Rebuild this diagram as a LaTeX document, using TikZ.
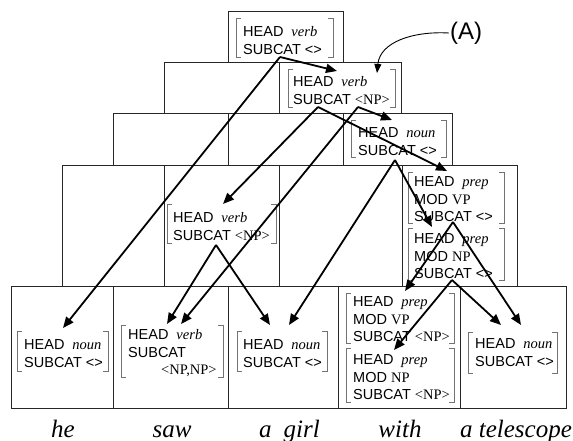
\documentclass[tikz,border=0pt]{standalone}
\usepackage{fontspec}
\setmainfont{Liberation Sans}
\newfontfamily\tms{Liberation Serif}
\usetikzlibrary{arrows.meta}
\newcommand\fsbrack[4]{%
  \draw[br] (#1+5,#2) -- (#1,#2) -- (#1,#4) -- (#1+5,#4);
  \draw[br] (#3-5,#2) -- (#3,#2) -- (#3,#4) -- (#3-5,#4);}
\newcommand\hd[1]{HEAD\hspace{8pt}{\tms\itshape #1}}
\begin{document}
\begin{tikzpicture}[x=1pt,y=-1pt,
  cell/.style={draw=black!85,line width=0.8pt},
  fs/.style={anchor=north west,inner sep=0pt,align=left,font=\fontsize{14.5}{17.5}\selectfont},
  br/.style={draw=black!55,line width=0.8pt},
  arr/.style={line width=1.8pt,-{Triangle[length=11pt,width=9pt]}},
  word/.style={anchor=base,inner sep=0pt,font=\tms\itshape\fontsize{25}{30}\selectfont}]
\useasboundingbox[fill=white] (0,0) rectangle (573,441);
% grid
\draw[cell] (228,11) rectangle (343,62);
\draw[cell] (164,62) rectangle (401,113) (279,62) -- (279,113);
\draw[cell] (113,113) rectangle (452,165) (228,113) -- (228,165) (343,113) -- (343,165);
\draw[cell] (62,165) rectangle (517,286) (164,165) -- (164,286) (279,165) -- (279,286) (402,165) -- (402,286);
\draw[cell] (11,286) rectangle (566,408) (113,286) -- (113,408) (228,286) -- (228,408) (338,286) -- (338,408) (460,286) -- (460,408);
% brackets
\fsbrack{236}{18}{333}{57}
\fsbrack{288}{69}{395}{107}
\fsbrack{351}{120}{446}{157}
\fsbrack{167}{204}{276}{243}
\fsbrack{408}{172}{504}{223}
\fsbrack{408}{228}{504}{280}
\fsbrack{17}{331}{108}{371}
\fsbrack{121}{325}{223}{377}
\fsbrack{237}{331}{327}{371}
\fsbrack{346}{293}{454}{343}
\fsbrack{346}{348}{454}{402}
\fsbrack{468}{332}{557}{373}
% feature structures
\node[fs] (fs1) at (243,26.5) {\hd{verb}\\SUBCAT <>};
\node[fs] (fs2) at (293,76.5) {\hd{verb}\\SUBCAT {\tms<NP>}};
\node[fs] (fs3) at (358,127.5) {\hd{noun}\\SUBCAT <>};
\node[fs] (fs4) at (173,212.5) {\hd{verb}\\SUBCAT {\tms<NP>}};
\node[fs] (fs5) at (414,176.5) {\hd{prep}\\MOD {\tms VP}\\SUBCAT <>};
\node[fs] (fs6) at (414,233.5) {\hd{prep}\\MOD {\tms NP}\\SUBCAT <>};
\node[fs] (fs7) at (24,339.5) {\hd{noun}\\SUBCAT <>};
\node[fs] (fs8) at (128,329.5) {\hd{verb}\\SUBCAT\\\hspace*{33pt}{\tms<NP,NP>}};
\node[fs] (fs9) at (243,339.5) {\hd{noun}\\SUBCAT <>};
\node[fs] (fs10) at (353,296.5) {\hd{prep}\\MOD {\tms VP}\\SUBCAT {\tms<NP>}};
\node[fs] (fs11) at (353,354.5) {\hd{prep}\\MOD {\tms NP}\\SUBCAT {\tms<NP>}};
\node[fs] (fs12) at (475,338.5) {\hd{noun}\\SUBCAT <>};
% words
\node[word] (w1) at (63,437) {he};
\node[word] (w2) at (172,437) {saw};
\node[word] (w3) at (289.5,437) {a\hspace{12pt}girl};
\node[word] (w4) at (400,437) {with};
\node[word] (w5) at (516,437) {a telescope};
% connector points
\coordinate (fs1-o) at (280,57);
\coordinate (fs2-i) at (337,71);
\coordinate (fs2-oL) at (318,107);
\coordinate (fs2-oR) at (358,107);
\coordinate (fs2-a) at (377,73);
\coordinate (fs3-i) at (392,120);
\coordinate (fs3-o) at (395,160);
\coordinate (fs4-i) at (223,204);
\coordinate (fs4-o) at (216,245);
\coordinate (fs5-i) at (447,171);
\coordinate (fs5-o) at (453,222);
\coordinate (fs6-i) at (432,227);
\coordinate (fs6-o) at (452,280);
\coordinate (fs7-i) at (63,328);
\coordinate (fs8-iL) at (167,324);
\coordinate (fs8-iR) at (181,324);
\coordinate (fs9-iL) at (270,325);
\coordinate (fs9-iR) at (289,325);
\coordinate (fs10-i) at (405,291);
\coordinate (fs11-i) at (394,350);
\coordinate (fs12-iL) at (501,325);
\coordinate (fs12-iR) at (521,325);
% arrows
\draw[arr] (fs1-o) -- (fs2-i);
\draw[arr] (fs1-o) -- (fs7-i);
\draw[arr] (fs2-oL) -- (fs4-i);
\draw[arr] (fs2-oL) -- (fs5-i);
\draw[arr] (fs2-oR) -- (fs3-i);
\draw[arr] (fs2-oR) -- (fs8-iR);
\draw[arr] (fs3-o) -- (fs6-i);
\draw[arr] (fs3-o) -- (fs9-iR);
\draw[arr] (fs4-o) -- (fs8-iL);
\draw[arr] (fs4-o) -- (fs9-iL);
\draw[arr] (fs5-o) -- (fs10-i);
\draw[arr] (fs5-o) -- (fs12-iR);
\draw[arr] (fs6-o) -- (fs11-i);
\draw[arr] (fs6-o) -- (fs12-iL);
% label (A)
\node[inner sep=0pt,font=\fontsize{24}{28}\selectfont] (lblA) at (466,33) {(A)};
\draw[line width=0.9pt,-{Triangle[length=9pt,width=7pt]}] ([xshift=-1pt]lblA.west) .. controls (413,31) and (380,42) .. (fs2-a);
\end{tikzpicture}
\end{document}
